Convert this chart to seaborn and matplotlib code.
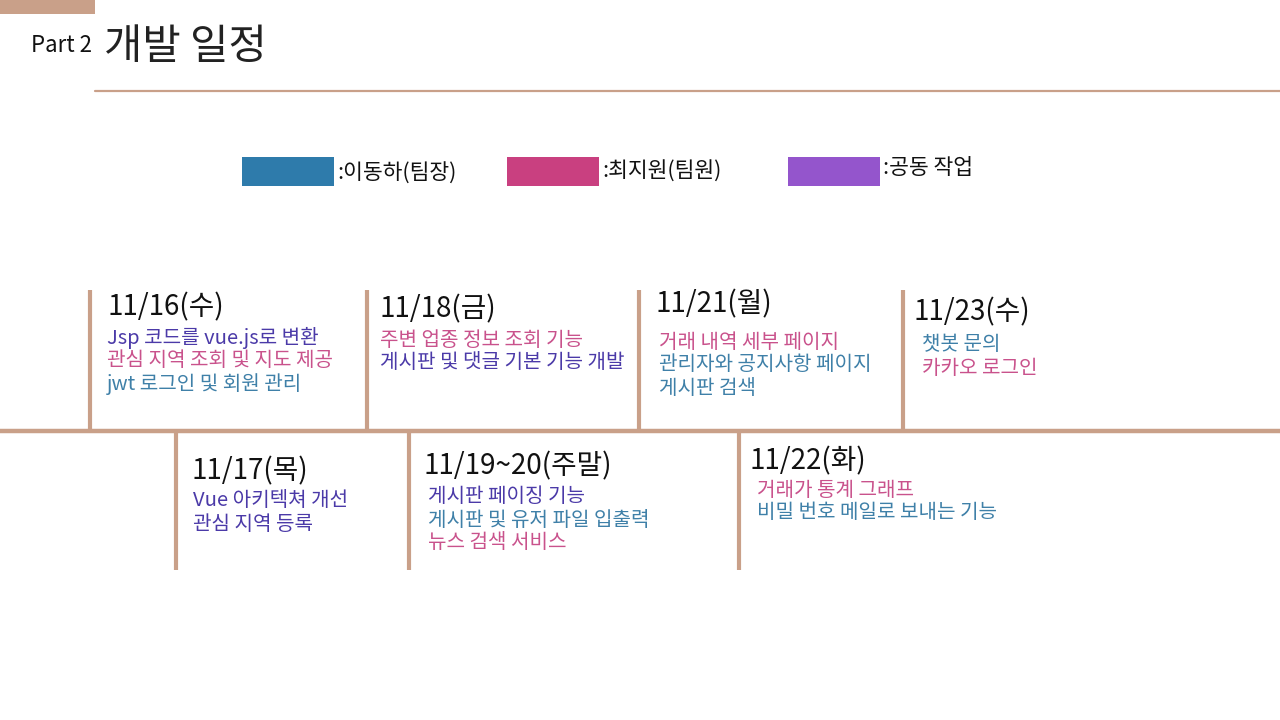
import numpy as np
import pandas as pd
import matplotlib
matplotlib.use('Agg')
import matplotlib.pyplot as plt
from matplotlib.patches import Rectangle
import seaborn as sns

# ── data ──────────────────────────────────────────────
dates = ['11/16(수)', '11/17(목)', '11/18(금)', '11/19~20(주말)',
         '11/21(월)', '11/22(화)', '11/23(수)']

tasks = [
    ['Jsp 코드를 vue.js로 변환', '관심 지역 조회 및 지도 제공', 'jwt 로그인 및 회원 관리'],
    ['Vue 아키텍쳐 개선', '관심 지역 등록'],
    ['주변 업종 정보 조회 기능', '게시판 및 댓글 기본 기능 개발'],
    ['게시판 페이징 기능', '게시판 및 유저 파일 입출력', '뉴스 검색 서비스'],
    ['거래 내역 세부 페이지', '관리자와 공지사항 페이지', '게시판 검색'],
    ['거래가 통계 그래프', '비밀 번호 메일로 보내는 기능'],
    ['챗봇 문의', '카카오 로그인'],
]

owners = [
    ['joint', 'choi', 'lee'],
    ['joint', 'joint'],
    ['choi', 'joint'],
    ['joint', 'lee', 'choi'],
    ['choi', 'lee', 'lee'],
    ['choi', 'lee'],
    ['lee', 'choi'],
]

owner_keys = ['lee', 'choi', 'joint']
owner_labels = [':이동하(팀장)', ':최지원(팀원)', ':공동 작업']

# ── layout / style ────────────────────────────────────
swatch_colors = {'lee': '#2E7BAB', 'choi': '#C94080', 'joint': '#9455CC'}
text_colors = {'lee': '#3F80A8', 'choi': '#C9528C', 'joint': '#4B3AA8'}
TAN = '#C9A089'

# tick x, side (above / below the line), date label pos, first task pos
tick_x = [90, 176, 367, 409, 639, 739, 903]
side = ['up', 'down', 'up', 'down', 'up', 'down', 'up']
date_pos = [(107, 307), (192, 471), (380, 309), (423, 466),
            (655, 304), (750, 461), (913, 312)]
task_start = [(107, 338), (193, 501), (380, 340), (428, 497),
              (659, 342), (757, 490), (922, 345)]
LINE_Y = 431
LINE_GAP = 23

sns.set_theme(style='white')
plt.rcParams['font.family'] = ['Noto Sans CJK KR', 'DejaVu Sans']

fig = plt.figure(figsize=(12.8, 7.2), dpi=100)
ax = fig.add_axes([0, 0, 1, 1])
ax.set_xlim(0, 1280)
ax.set_ylim(720, 0)
ax.axis('off')

# ── header ────────────────────────────────────────────
ax.add_patch(Rectangle((0, 0), 95, 14, color=TAN, lw=0))
ax.plot([95, 1280], [91, 91], color=TAN, lw=1.6)
ax.text(31, 45, 'Part 2', fontsize=16, color='#111111', va='center')
ax.text(104, 48, '개발 일정', fontsize=30, color='#222222', va='center')

# ── legend ────────────────────────────────────────────
legend_x = [242, 507, 788]
legend_label_y = [174, 172, 168]
for key, lab, lx, ly in zip(owner_keys, owner_labels, legend_x, legend_label_y):
    ax.add_patch(Rectangle((lx, 157), 92, 29, color=swatch_colors[key], lw=0))
    ax.text(lx + 95, ly, lab, fontsize=15.5, color='#111111', va='center')

# ── timeline ──────────────────────────────────────────
ticks = pd.DataFrame({'date': dates, 'x': tick_x, 'side': side})
ax.plot([0, 1280], [LINE_Y, LINE_Y], color=TAN, lw=3.2, solid_capstyle='butt')
up = ticks[ticks['side'] == 'up']
down = ticks[ticks['side'] == 'down']
ax.vlines(up['x'], 290, LINE_Y, color=TAN, lw=3)
ax.vlines(down['x'], LINE_Y, 570, color=TAN, lw=3)

for d, (dx, dy), (tx, ty), tl, ow in zip(dates, date_pos, task_start, tasks, owners):
    ax.text(dx, dy, d, fontsize=20, color='#111111', va='center')
    for i, (t, o) in enumerate(zip(tl, ow)):
        ax.text(tx, ty + i * LINE_GAP, t, fontsize=14.5, color=text_colors[o], va='center')

fig.savefig('out.png', dpi=100)
plt.close(fig)
